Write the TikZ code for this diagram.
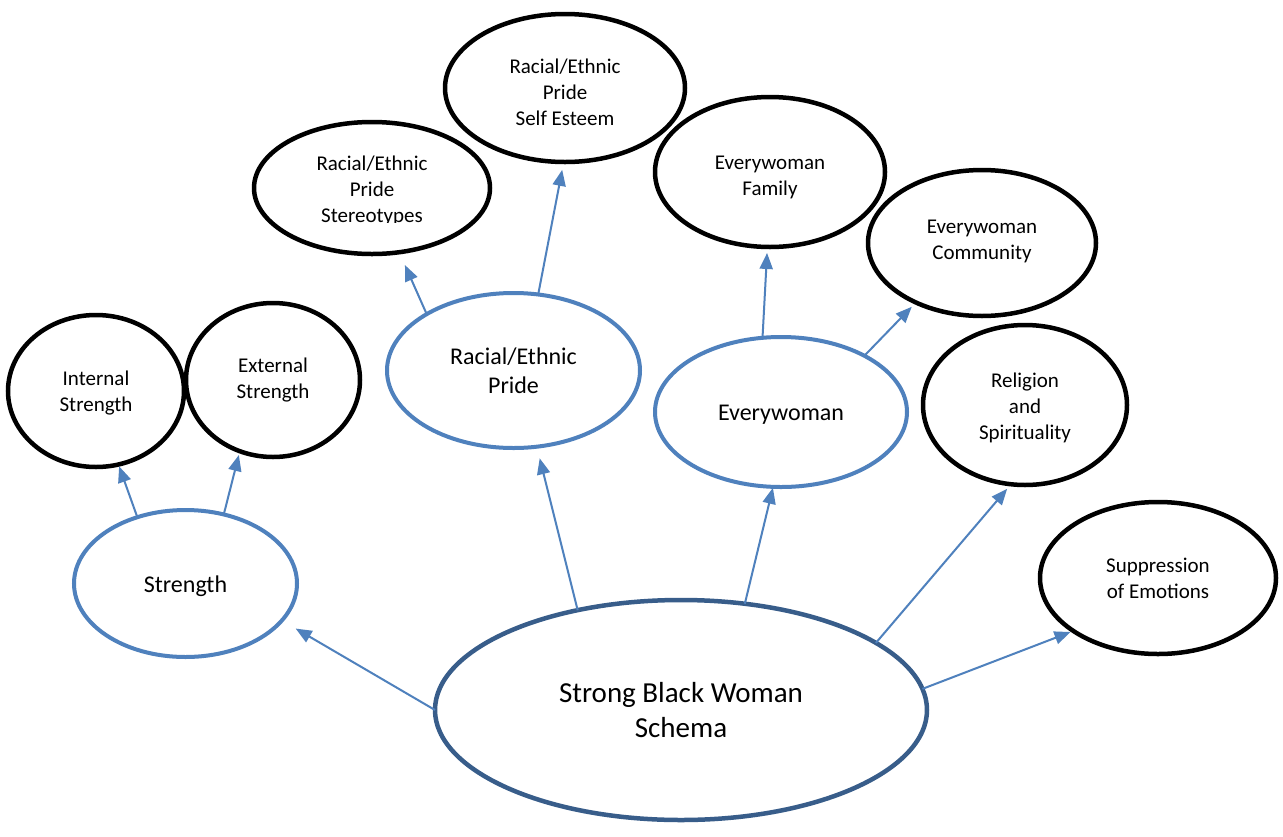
\documentclass[tikz,border=0pt]{standalone}
\usepackage{fontspec}
\setmainfont{Carlito}
\usetikzlibrary{shapes.geometric,arrows.meta}
\definecolor{accent}{HTML}{4F81BD}
\definecolor{deep}{HTML}{385D8A}
\begin{document}
\begin{tikzpicture}[x=1pt,y=-1pt,
  sub/.style={ellipse, draw=black, line width=4.5pt, inner sep=0pt, outer sep=0pt, align=center, font=\fontsize{21}{26}\selectfont},
  mid/.style={ellipse, draw=accent, line width=4pt, inner sep=0pt, outer sep=0pt, align=center, font=\fontsize{24}{29}\selectfont},
  core/.style={ellipse, draw=deep, line width=4.5pt, inner sep=0pt, outer sep=0pt, align=center, font=\fontsize{29}{35}\selectfont},
  lbl/.style={inner sep=0pt, align=center, font=\fontsize{21}{26}\selectfont},
  lblmid/.style={inner sep=0pt, align=center, font=\fontsize{24}{29}\selectfont},
  link/.style={draw=accent, line width=2pt, -{Triangle[length=16pt,width=13pt]}}]
\useasboundingbox[fill=white] (0,0) rectangle (1283,836);

% main schema
\node[core, minimum width=492pt, minimum height=220pt] (core) at (681,710) {Strong Black Woman\\Schema};

% mid-level
\node[mid, minimum width=223pt, minimum height=147pt] (strength) at (185.5,583.5) {};
\node[lblmid] (strength-t) at ([yshift=-3pt]strength.center) {Strength};
\node[mid, minimum width=253pt, minimum height=155pt] (pride) at (513.5,370.5) {Racial/Ethnic\\Pride};
\node[mid, minimum width=252pt, minimum height=150pt] (every) at (781,412) {};
\node[lblmid] (every-t) at ([yshift=-3pt]every.center) {Everywoman};

% leaves
\node[sub, minimum width=176pt, minimum height=152pt] (internal) at (96,391) {};
\node[lbl] (internal-t) at ([yshift=-2.5pt]internal.center) {Internal\\Strength};
\node[sub, minimum width=174pt, minimum height=154pt] (external) at (273,380) {External\\Strength};
\node[sub, minimum width=236pt, minimum height=132pt] (stereo) at (372,188) {};
\begin{scope}
  \clip (250,110) rectangle (500,222);
  \node[lbl] (stereo-t) at ([yshift=-2.5pt]stereo.center) {Racial/Ethnic\\Pride\\Stereotypes};
\end{scope}
\node[sub, minimum width=240pt, minimum height=148pt] (esteem) at (565,88) {};
\node[lbl] (esteem-t) at ([yshift=-4pt]esteem.center) {Racial/Ethnic\\Pride\\Self Esteem};
\node[sub, minimum width=230pt, minimum height=150pt] (family) at (770,172) {};
\node[lbl] (family-t) at ([yshift=-5pt]family.center) {Everywoman\\Family};
\node[sub, minimum width=228pt, minimum height=146pt] (community) at (982,243) {};
\node[lbl] (community-t) at ([yshift=2pt]community.center) {Everywoman\\Community};
\node[sub, minimum width=204pt, minimum height=160pt] (relig) at (1025,405) {};
\node[lbl] (relig-t) at ([yshift=-3pt]relig.center) {Religion\\and\\Spirituality};
\node[sub, minimum width=236pt, minimum height=152pt] (supp) at (1158,578) {Suppression\\of Emotions};

% connectors
\draw[link, shorten >=16pt] (core.180) -- (strength.-21.5);
\draw[link, shorten >=12pt] (core.136.6) -- (pride.-73.2);
\draw[link, shorten >=1pt] (core.59.4) -- (every.-96);
\draw[link, shorten >=6pt] (core.19.7) -- (relig.-100);
\draw[link, shorten >=3pt] (core.5.8) -- (supp.212.6);
\draw[link, shorten >=2pt] (strength.126) -- (internal.-73.9);
\draw[link, shorten >=4pt] (strength.61.7) -- (external.245);
\draw[link, shorten >=14pt] (pride.147.6) -- (stereo.-67.4);
\draw[link, shorten >=8pt] (pride.72.7) -- (esteem.-91.4);
\draw[link, shorten >=6pt] (every.104.4) -- (family.-92.8);
\draw[link, shorten >=6pt] (every.34.4) -- (community.222.8);
\end{tikzpicture}
\end{document}
